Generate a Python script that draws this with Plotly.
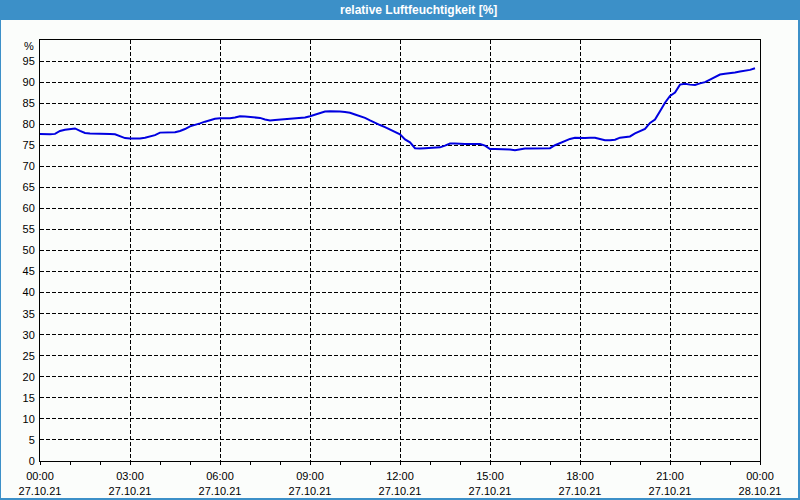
import plotly.graph_objects as go
import pandas as pd

# ---- data (10-minute readings, 27.10.21 00:00 .. 23:50) ----
humidity = [
    77.7, 77.6, 77.6, 77.7, 78.4, 78.7, 78.9, 79.0, 78.4, 77.9, 77.8, 77.8,
    77.8, 77.8, 77.7, 77.6, 77.1, 76.7, 76.6, 76.6, 76.6, 76.8, 77.1, 77.4,
    78.0, 78.0, 78.0, 78.1, 78.4, 78.85, 79.5, 79.8, 80.2, 80.6, 81.0, 81.3,
    81.4, 81.4, 81.4, 81.6, 81.9, 81.8, 81.7, 81.6, 81.5, 81.1, 80.9, 81.0,
    81.1, 81.1, 81.2, 81.3, 81.4, 81.6, 81.9, 82.3, 82.7, 83.0, 83.1, 83.1,
    83.0, 82.9, 82.7, 82.3, 81.9, 81.5, 80.9, 80.3, 79.8, 79.3, 78.7, 78.1,
    77.6, 76.4, 75.7, 74.3, 74.2, 74.3, 74.4, 74.5, 74.5, 74.9, 75.4, 75.4,
    75.3, 75.3, 75.3, 75.3, 75.3, 74.9, 74.1, 74.1, 74.1, 74.0, 74.0, 73.8,
    74.0, 74.2, 74.2, 74.2, 74.2, 74.3, 74.3, 75.0, 75.5, 75.9, 76.5, 76.8,
    76.7, 76.7, 76.8, 76.8, 76.5, 76.2, 76.2, 76.3, 76.8, 77.0, 77.1, 77.8,
    78.3, 78.9, 80.3, 81.1, 83.1, 85.1, 86.7, 87.5, 89.4, 89.6, 89.4, 89.3,
    89.7, 90.0, 90.6, 91.3, 91.8, 92.0, 92.1, 92.3, 92.5, 92.7, 92.9, 93.3,
]
times = pd.date_range("2021-10-27 00:00", periods=len(humidity), freq="10min")

x_tick_times = ["2021-10-27 00:00", "2021-10-27 03:00", "2021-10-27 06:00",
                "2021-10-27 09:00", "2021-10-27 12:00", "2021-10-27 15:00",
                "2021-10-27 18:00", "2021-10-27 21:00", "2021-10-28 00:00"]
x_tick_labels = ["00:00<br>27.10.21", "03:00<br>27.10.21", "06:00<br>27.10.21",
                 "09:00<br>27.10.21", "12:00<br>27.10.21", "15:00<br>27.10.21",
                 "18:00<br>27.10.21", "21:00<br>27.10.21", "00:00<br>28.10.21"]
minor_tick_times = [str(t) for t in pd.date_range("2021-10-27 00:00", "2021-10-28 00:00", freq="1h")]
y_tick_vals = list(range(0, 100, 5))
y_tick_labels = [str(v) for v in y_tick_vals]

title_text = "relative Luftfeuchtigkeit [%]"

# ---- layout geometry (pixels) ----
W, H = 800, 500
L, R, T, B = 40, 40, 40, 39
pw, ph = W - L - R, H - T - B


def px_x(px):
    return (px - L) / pw


def px_y(py):
    return (H - B - py) / ph


FONT = "Tahoma, Liberation Sans, Arial, sans-serif"
BG = "#fbfdfb"
BLUE_BAR = "#3c90c8"

fig = go.Figure()
fig.add_trace(go.Scatter(
    x=times, y=humidity, mode="lines",
    line=dict(color="#0000e0", width=2),
    hoverinfo="skip", showlegend=False,
))

shapes = [
    # title bar
    dict(type="rect", xref="paper", yref="paper", x0=px_x(0), x1=px_x(W), y0=px_y(20), y1=px_y(0),
         fillcolor=BLUE_BAR, line=dict(width=0), layer="above"),
    # window borders
    dict(type="rect", xref="paper", yref="paper", x0=px_x(0), x1=px_x(1), y0=px_y(H), y1=px_y(0),
         fillcolor=BLUE_BAR, line=dict(width=0), layer="above"),
    dict(type="rect", xref="paper", yref="paper", x0=px_x(798), x1=px_x(W), y0=px_y(H), y1=px_y(0),
         fillcolor=BLUE_BAR, line=dict(width=0), layer="above"),
    dict(type="rect", xref="paper", yref="paper", x0=px_x(0), x1=px_x(W), y0=px_y(H), y1=px_y(498),
         fillcolor=BLUE_BAR, line=dict(width=0), layer="above"),
]

annotations = [
    dict(text="<b>" + title_text + "</b>", xref="paper", yref="paper",
         x=px_x(418), y=px_y(10), xanchor="center", yanchor="middle", showarrow=False,
         font=dict(family=FONT, size=12, color="white")),
    dict(text="%", xref="paper", yref="paper", x=0, y=px_y(46), xanchor="right", yanchor="middle",
         xshift=-4, showarrow=False, font=dict(family=FONT, size=11, color="black")),
]

fig.update_layout(
    width=W, height=H,
    margin=dict(l=L, r=R, t=T, b=B, pad=0, autoexpand=False),
    paper_bgcolor=BG, plot_bgcolor=BG,
    font=dict(family=FONT, size=11, color="black"),
    shapes=shapes, annotations=annotations,
    xaxis=dict(
        type="date", automargin=False,
        range=["2021-10-27 00:00", "2021-10-28 00:00"],
        tickmode="array", tickvals=x_tick_times, ticktext=x_tick_labels,
        ticks="outside", ticklen=3, tickcolor="black", tickwidth=1,
        showgrid=True, gridcolor="black", gridwidth=1, griddash="4px,2px",
        showline=True, linecolor="black", linewidth=1, mirror=True,
        minor=dict(tickmode="array", tickvals=minor_tick_times, ticks="outside",
                   ticklen=3, tickcolor="black", showgrid=False),
        zeroline=False, fixedrange=True, ticklabelstandoff=2,
        tickfont=dict(family=FONT, size=11, color="black"),
    ),
    yaxis=dict(
        range=[0, 100], automargin=False,
        tickmode="array", tickvals=y_tick_vals, ticktext=y_tick_labels,
        ticks="", showgrid=True, gridcolor="black", gridwidth=1, griddash="4px,2px",
        showline=True, linecolor="black", linewidth=1, mirror=True,
        zeroline=False, fixedrange=True, ticklabelstandoff=2,
        tickfont=dict(family=FONT, size=11, color="black"),
    ),
)

fig.write_html("out.html")
